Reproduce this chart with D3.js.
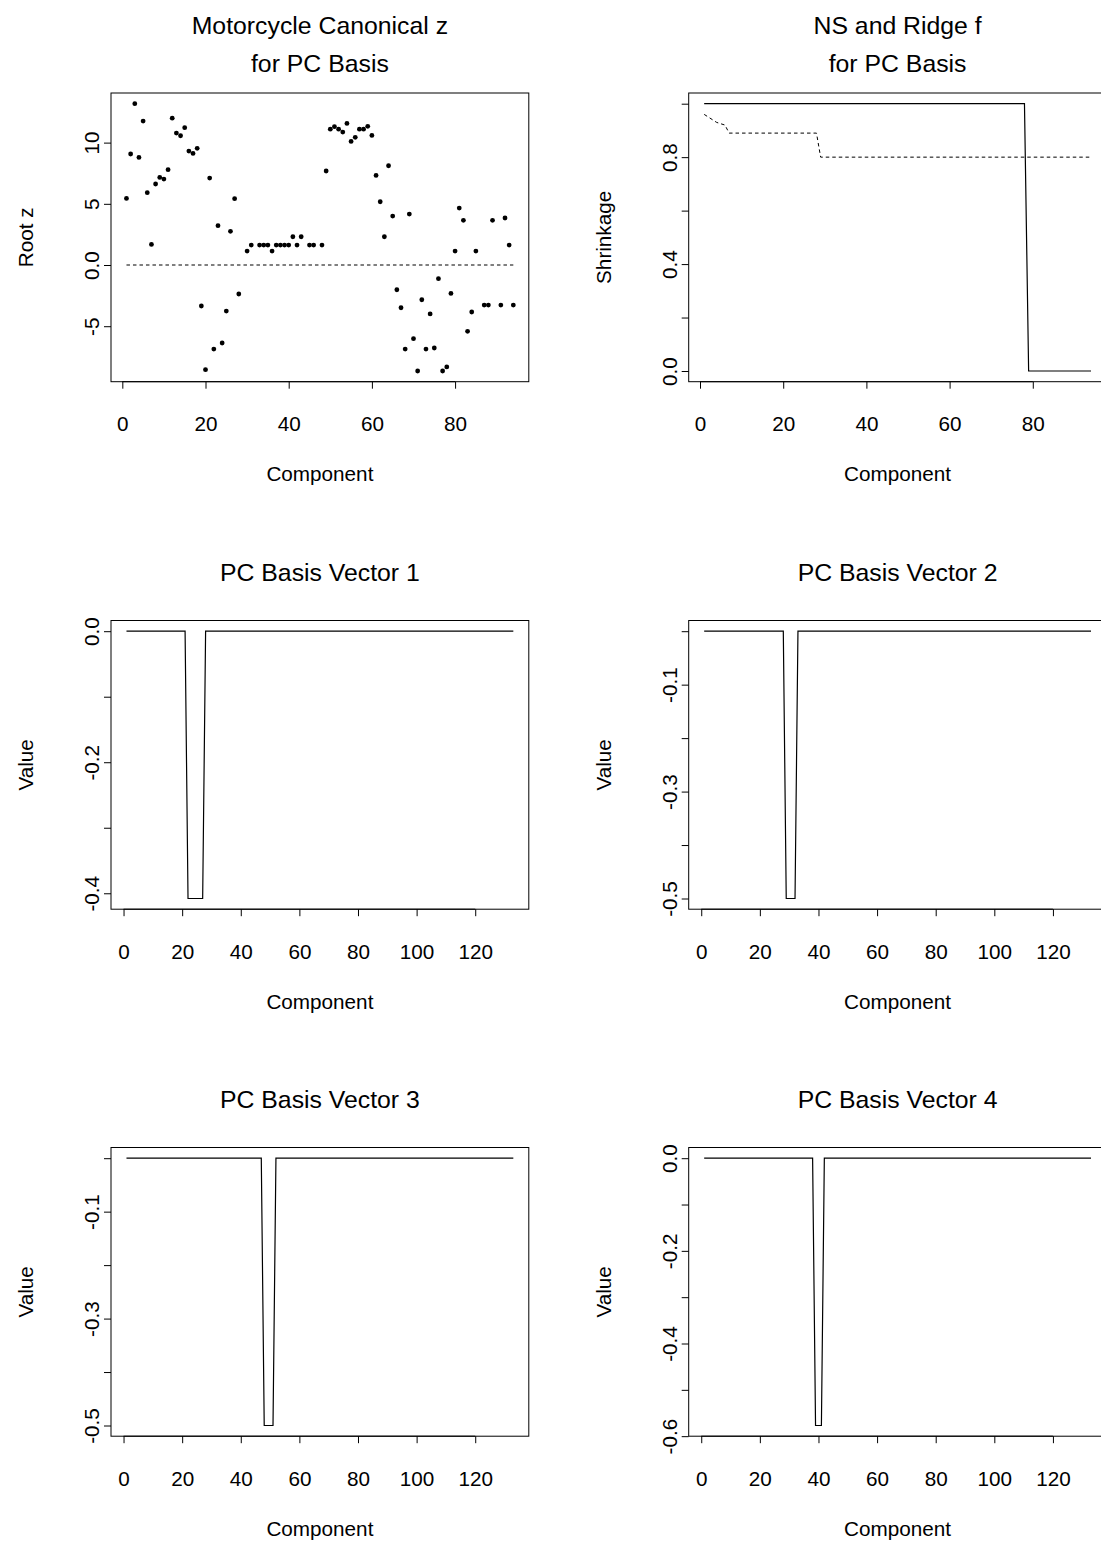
<!DOCTYPE html>
<html>
<head>
<meta charset="utf-8">
<script src="https://cdn.jsdelivr.net/npm/d3@7"></script>
<style>
  html, body { margin: 0; padding: 0; background: #fff; }
  svg { display: block; }
  text { font-family: "Liberation Sans", Arial, Helvetica, sans-serif; fill: #000; }
</style>
</head>
<body>
<svg id="chart" width="1101" height="1541"></svg>
<script>
// ---------------- DATA ----------------
// Panel 1: Motorcycle canonical root z for components 1..94 (null = no point drawn)
const rootZ = [
  5.44, 9.07, 13.18, 8.79, 11.76, 5.91, 1.68, 6.62, 7.16, 7.02,
  7.79, 12.0, 10.78, 10.56, 11.22, 9.31, 9.12, 9.53, -3.35, -8.55,
  7.1, -6.87, 3.21, -6.37, -3.76, 2.75, 5.42, -2.37, null, 1.14,
  1.63, null, 1.63, 1.63, 1.63, 1.14, 1.63, 1.63, 1.63, 1.63,
  2.31, 1.63, 2.31, null, 1.63, 1.63, null, 1.63, 7.68, 11.1,
  11.3, 11.1, 10.86, 11.57, 10.1, 10.43, 11.1, 11.1, 11.33, 10.59,
  7.32, 5.17, 2.31, 8.11, 4.0, -2.02, -3.49, -6.87, 4.16, -6.02,
  -8.66, -2.84, -6.87, -4.0, -6.78, -1.12, -8.66, -8.33, -2.32, 1.14,
  4.65, 3.65, -5.42, -3.84, 1.14, null, -3.27, -3.27, 3.65, null,
  -3.27, 3.84, 1.63, -3.27
];
const rootZTicks = [-5, 0, 5, 10];
const comp94Ticks = [0, 20, 40, 60, 80];

// Panel 2: NS (solid) and Ridge (dashed) shrinkage — breakpoints
const nsComponent = [1, 78, 79, 94];
const nsShrink    = [1, 1, 0, 0];
const ridgeComponent = [1, 2, 3, 4, 5, 6, 7, 28, 29, 94];
const ridgeShrink    = [0.96, 0.95, 0.94, 0.93, 0.925, 0.92, 0.89, 0.89, 0.80, 0.80];
const shrinkTicks = [0, 0.2, 0.4, 0.6, 0.8, 1.0];
const shrinkLabeled = [0, 0.4, 0.8];

// Panels 3-6: PC basis vectors (133 components) — breakpoints of the line
const basisN = 133;
const vec1Component = [1, 21, 22, 27, 28, 133];
const vec1Value     = [0, 0, -0.408, -0.408, 0, 0];
const vec2Component = [1, 28, 29, 32, 33, 133];
const vec2Value     = [0, 0, -0.5, -0.5, 0, 0];
const vec3Component = [1, 47, 48, 51, 52, 133];
const vec3Value     = [0, 0, -0.5, -0.5, 0, 0];
const vec4Component = [1, 38, 39, 41, 42, 133];
const vec4Value     = [0, 0, -0.577, -0.577, 0, 0];
const comp133Ticks = [0, 20, 40, 60, 80, 100, 120];
const vec1Ticks = [-0.4, -0.3, -0.2, -0.1, 0.0];
const vec1Labeled = [-0.4, -0.2, 0.0];
const vec23Ticks = [-0.5, -0.4, -0.3, -0.2, -0.1, 0.0];
const vec23Labeled = [-0.5, -0.3, -0.1];
const vec4Ticks = [-0.6, -0.5, -0.4, -0.3, -0.2, -0.1, 0.0];
const vec4Labeled = [-0.6, -0.4, -0.2, 0.0];

// ---------------- LAYOUT ----------------
const colLeft = [111, 688.7];
const rowTop = [93, 620.5, 1147.5];
const plotW = 417.8, plotH = 288.7;
const titleSize = 24.8, labelSize = 20.7;
const tickLen = 7;

const svg = d3.select("#chart");

function ext(lo, hi) { const r = hi - lo; return [lo - 0.04 * r, hi + 0.04 * r]; }
function fmtR(d) {
  const s = Number.isInteger(d) && Math.abs(d) >= 1 ? String(d) : (Math.abs(d) < 1e-9 ? "0.0" : d.toFixed(1));
  return s.replace("\u2212", "-");
}

function panel(col, row, opts) {
  const L = colLeft[col], T = rowTop[row];
  const g = svg.append("g");
  const x = d3.scaleLinear().domain(ext(opts.xDomain[0], opts.xDomain[1])).range([L, L + plotW]);
  const y = d3.scaleLinear().domain(ext(opts.yDomain[0], opts.yDomain[1])).range([T + plotH, T]);

  // title (possibly multi-line), centred block
  const lines = opts.title;
  const lineGap = 38;
  const blockCenter = T - 48.8;
  lines.forEach((t, i) => {
    const cy = blockCenter + (i - (lines.length - 1) / 2) * lineGap;
    g.append("text").attr("x", L + plotW / 2).attr("y", cy + 8.9)
      .attr("text-anchor", "middle").attr("font-size", titleSize).text(t);
  });

  // x axis
  const xAxis = d3.axisBottom(x).tickValues(opts.xTicks).tickSize(tickLen).tickPadding(0)
    .tickFormat(d => String(d));
  const gx = g.append("g").attr("transform", `translate(0,${T + plotH})`).call(xAxis);
  gx.select(".domain").remove();
  gx.selectAll(".tick line").attr("stroke", "#000").attr("stroke-width", 1);
  gx.selectAll(".tick text").attr("font-size", labelSize).attr("font-family", "Liberation Sans, Arial, sans-serif")
    .attr("fill", "#000").attr("y", 49.5).attr("dy", 0);
  g.append("line").attr("x1", x(opts.xTicks[0])).attr("x2", x(opts.xTicks[opts.xTicks.length - 1]))
    .attr("y1", T + plotH).attr("y2", T + plotH).attr("stroke", "#000");

  // y axis
  const yAxis = d3.axisLeft(y).tickValues(opts.yTicks).tickSize(tickLen).tickPadding(0)
    .tickFormat(d => (opts.yLabeled.some(v => Math.abs(v - d) < 1e-9) ? fmtR(d) : ""));
  const gy = g.append("g").attr("transform", `translate(${L},0)`).call(yAxis);
  gy.select(".domain").remove();
  gy.selectAll(".tick line").attr("stroke", "#000").attr("stroke-width", 1);
  gy.selectAll(".tick text").attr("font-size", labelSize).attr("font-family", "Liberation Sans, Arial, sans-serif")
    .attr("fill", "#000").attr("text-anchor", "middle")
    .attr("transform", "rotate(-90)").attr("x", 0).attr("y", -12).attr("dy", 0);

  // box
  g.append("rect").attr("x", L).attr("y", T).attr("width", plotW).attr("height", plotH)
    .attr("fill", "none").attr("stroke", "#000").attr("stroke-width", 1);

  // axis titles
  g.append("text").attr("x", L + plotW / 2).attr("y", T + plotH + 99.5)
    .attr("text-anchor", "middle").attr("font-size", labelSize).text(opts.xLabel);
  g.append("text").attr("transform", `translate(${L - 78},${T + plotH / 2}) rotate(-90)`)
    .attr("text-anchor", "middle").attr("font-size", labelSize).text(opts.yLabel);

  return { g, x, y };
}

// ---- Panel 1 ----
{
  const pts = rootZ.map((v, i) => ({ c: i + 1, v })).filter(d => d.v !== null);
  const p = panel(0, 0, {
    title: ["Motorcycle Canonical z", "for PC Basis"],
    xDomain: [1, rootZ.length], yDomain: d3.extent(pts, d => d.v),
    xTicks: comp94Ticks, yTicks: rootZTicks, yLabeled: rootZTicks,
    xLabel: "Component", yLabel: "Root z"
  });
  p.g.append("line").attr("x1", p.x(1)).attr("x2", p.x(rootZ.length))
    .attr("y1", p.y(0)).attr("y2", p.y(0))
    .attr("stroke", "#000").attr("stroke-width", 1).attr("stroke-dasharray", "3.5,3");
  p.g.selectAll("circle.pt").data(pts).enter().append("circle")
    .attr("cx", d => p.x(d.c)).attr("cy", d => p.y(d.v)).attr("r", 2.4).attr("fill", "#000");
}

// ---- Panel 2 ----
{
  const p = panel(1, 0, {
    title: ["NS and Ridge f", "for PC Basis"],
    xDomain: [1, 94], yDomain: [0, 1],
    xTicks: comp94Ticks, yTicks: shrinkTicks, yLabeled: shrinkLabeled,
    xLabel: "Component", yLabel: "Shrinkage"
  });
  const line = d3.line().x(d => p.x(d[0])).y(d => p.y(d[1]));
  p.g.append("path").datum(nsComponent.map((c, i) => [c, nsShrink[i]]))
    .attr("d", line).attr("fill", "none").attr("stroke", "#000").attr("stroke-width", 1.2);
  p.g.append("path").datum(ridgeComponent.map((c, i) => [c, ridgeShrink[i]]))
    .attr("d", line).attr("fill", "none").attr("stroke", "#000").attr("stroke-width", 1)
    .attr("stroke-dasharray", "3.5,3");
}

// ---- Basis vector panels ----
const vecs = [
  { col: 0, row: 1, n: 1, comp: vec1Component, val: vec1Value, ticks: vec1Ticks, lab: vec1Labeled },
  { col: 1, row: 1, n: 2, comp: vec2Component, val: vec2Value, ticks: vec23Ticks, lab: vec23Labeled },
  { col: 0, row: 2, n: 3, comp: vec3Component, val: vec3Value, ticks: vec23Ticks, lab: vec23Labeled },
  { col: 1, row: 2, n: 4, comp: vec4Component, val: vec4Value, ticks: vec4Ticks, lab: vec4Labeled }
];
vecs.forEach(v => {
  const p = panel(v.col, v.row, {
    title: ["PC Basis Vector " + v.n],
    xDomain: [1, basisN], yDomain: d3.extent(v.val),
    xTicks: comp133Ticks, yTicks: v.ticks, yLabeled: v.lab,
    xLabel: "Component", yLabel: "Value"
  });
  const line = d3.line().x(d => p.x(d[0])).y(d => p.y(d[1]));
  p.g.append("path").datum(v.comp.map((c, i) => [c, v.val[i]]))
    .attr("d", line).attr("fill", "none").attr("stroke", "#000").attr("stroke-width", 1.2);
});
</script>
</body>
</html>
